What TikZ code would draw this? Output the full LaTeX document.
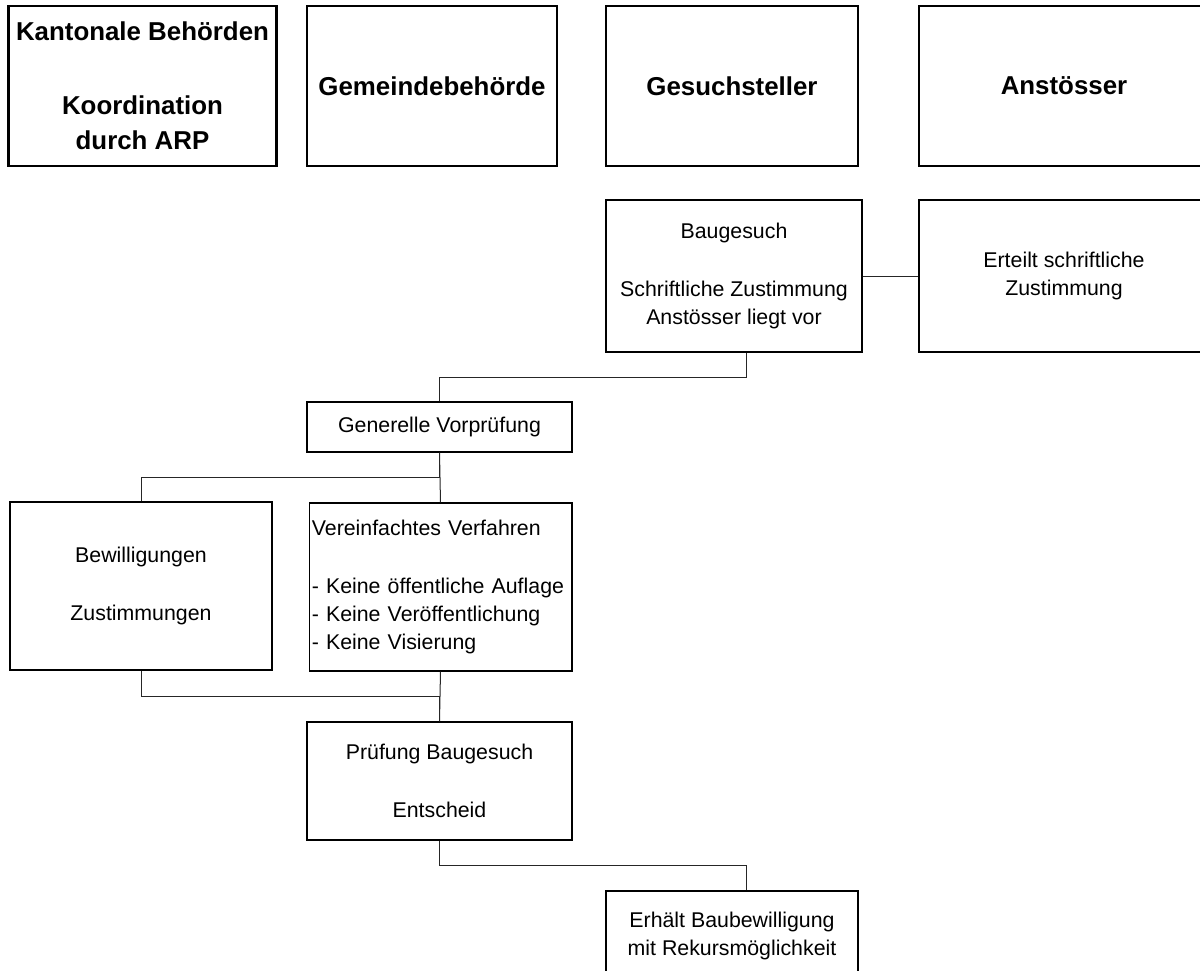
\documentclass[tikz,border=0pt]{standalone}
\usepackage{fontspec}
\setmainfont{Liberation Sans}
\begin{document}
\begin{tikzpicture}[x=0.75pt,y=-0.75pt,
  headbox/.style={draw=black,line width=1.6pt,inner sep=0pt,align=center,
    font=\bfseries\fontsize{19.4pt}{26.5pt}\selectfont,minimum height=120pt},
  stepbox/.style={draw=black,line width=0.8pt,inner sep=0pt,align=center,
    font=\fontsize{16pt}{21pt}\selectfont},
  conn/.style={draw=black!85,line width=0.75pt}]
\useasboundingbox (0,0) rectangle (1200,971);
\clip (0,0) rectangle (1200,971);
% header boxes
\node[headbox,minimum width=201pt] (h1) at (142.5,86) {Kantonale Behörden\\[28.5pt]Koordination\\durch ARP};
\node[headbox,minimum width=187.5pt] (h2) at (432,86) {Gemeindebehörde};
\node[headbox,minimum width=189pt] (h3) at (732,86) {Gesuchsteller};
\node[headbox,minimum width=217.5pt] (h4) at (1064,86) {Anstösser};
% process boxes
\node[stepbox,minimum width=192pt,minimum height=114pt] (B) at (734,276) {Baugesuch\\[22pt]Schriftliche Zustimmung\\Anstösser liegt vor};
\node[stepbox,minimum width=217.5pt,minimum height=114pt] (E) at (1064,276) {Erteilt schriftliche\\Zustimmung};
\node[stepbox,minimum width=198.75pt,minimum height=37.5pt] (G) at (439.5,427) {Generelle Vorprüfung};
\node[stepbox,minimum width=196.5pt,minimum height=126pt] (W) at (141,586) {Bewilligungen\\[22pt]Zustimmungen};
\node[stepbox,text width=193pt,align=left,inner xsep=2.1pt,minimum height=126pt] (V) at (440.5,587) {Vereinfachtes Verfahren\\[22pt]- Keine öffentliche Auflage\\- Keine Veröffentlichung\\- Keine Visierung};
\node[stepbox,minimum width=198.75pt,minimum height=88.5pt] (P) at (439.5,781) {Prüfung Baugesuch\\[22pt]Entscheid};
\node[stepbox,minimum width=189pt,minimum height=67.5pt] (R) at (732,936) {Erhält Baubewilligung\\mit Rekursmöglichkeit};
% connectors
\coordinate (bx) at (746,0);
\draw[conn] (B.east) -- (E.west);
\draw[conn] (B.south -| bx) -- ++(0,25) -| (G.north);
\draw[conn] (G.south) -- (V.north);
\draw[conn] (G.south) -- ++(0,25) -| (W.north);
\draw[conn] (V.south) -- (P.north);
\draw[conn] (W.south) -- ++(0,26) -| (P.north);
\draw[conn] (P.south) -- ++(0,25) -| (R.north -| bx);
\end{tikzpicture}
\end{document}
